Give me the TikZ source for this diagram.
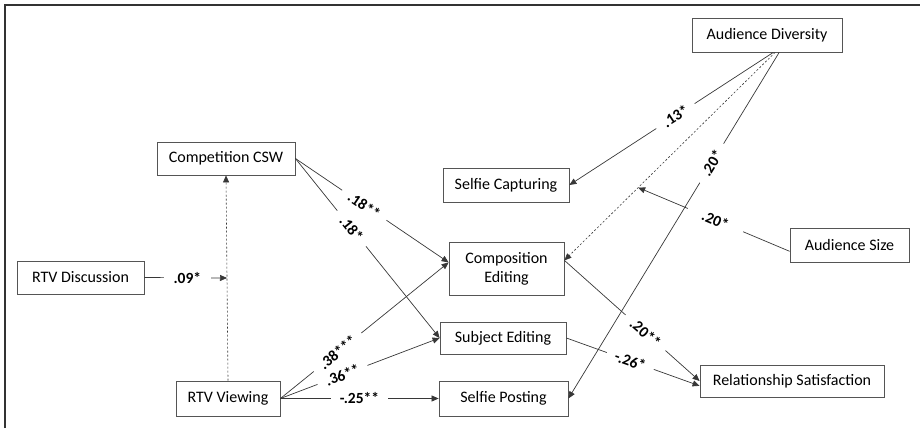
\documentclass[tikz,border=0pt]{standalone}
\usepackage{fontspec}
\setmainfont{Carlito}
\usetikzlibrary{arrows.meta,calc}

\definecolor{boxline}{RGB}{85,85,85}
\definecolor{pathline}{RGB}{55,55,55}
\tikzset{sem/.style={x=1pt,y=-1pt,font=\fontsize{16}{19}\selectfont}}
\tikzset{
  var/.style={draw=boxline,line width=0.8pt,inner sep=0pt,align=center},
  effect/.style={pathline,line width=0.7pt,-{Triangle[length=7pt,width=6pt]}},
  moderated/.style={effect,dash pattern=on 2pt off 2pt,line width=0.6pt},
  coef/.style={fill=white,text=black,font=\fontsize{15.5}{16}\selectfont\bfseries,inner ysep=1pt,inner xsep=#1},
  coef/.default=9pt
}

\begin{document}
\begin{tikzpicture}[sem]
    \useasboundingbox (0,0) rectangle (920,428);
    \draw[black!80,line width=1.6pt] (5,428) -- (5,5) -- (920,5);
    % variables
    \node[var,minimum width=138pt,minimum height=33pt] (csw)    at (226,158.5) {Competition CSW};
    \node[var,minimum width=127pt,minimum height=33pt] (disc)   at (80.5,277.5) {RTV Discussion};
    \node[var,minimum width=104pt,minimum height=35pt] (view)   at (228,398.5) {RTV Viewing};
    \node[var,minimum width=150pt,minimum height=34pt] (audd)   at (767,35)    {Audience Diversity};
    \node[var,minimum width=126pt,minimum height=34pt] (capt)   at (506,185)   {Selfie Capturing};
    \node[var,minimum width=115pt,minimum height=53pt] (comp)   at (506.5,268.5) {Composition\\Editing};
    \node[var,minimum width=126pt,minimum height=32pt] (subj)   at (503,338)   {Subject Editing};
    \node[var,minimum width=129pt,minimum height=35pt] (post)   at (503.5,398.5) {Selfie Posting};
    \node[var,minimum width=119pt,minimum height=34pt] (aus)    at (849.5,245) {Audience Size};
    \node[var,minimum width=184pt,minimum height=32pt] (relsat) at (792,381)   {Relationship Satisfaction};
    % points where the moderators meet the dashed paths
    \coordinate (m1) at ($(view.north)!0.5!(csw.south)$);
    \coordinate (m2) at ($(audd.-65)!0.65!(comp.8)$);
    % paths
    \draw[moderated] (view.north) -- (csw.south);
    \draw[moderated] (audd.-65) -- (comp.8);
    \draw[effect] (disc.east) -- node[coef=10pt,pos=0.52] {.09*} (m1);
    \draw[effect] (csw.east) -- node[coef,sloped,pos=0.45] {.18**} (comp.174);
    \draw[effect] (csw.east) -- node[coef,sloped,pos=0.39] {.18*} (subj.west);
    \draw[effect] (view.east) -- node[coef,sloped,pos=0.34] {.38***} (comp.174);
    \draw[effect] (view.east) -- node[coef,sloped,pos=0.39] {.36**} (subj.west);
    \draw[effect] (view.east) -- node[coef,pos=0.5] {-.25**} (post.west);
    \draw[effect] (audd.-70) -- node[coef,sloped,pos=0.48] {.13*} (capt.east);
    \draw[effect] (comp.8) -- node[coef,sloped,pos=0.6] {.20**} (relsat.west);
    \draw[effect] (subj.east) -- node[coef,sloped,pos=0.48] {-.26*} (relsat.183);
    \draw[effect] (aus.186) -- node[coef=16pt,sloped,pos=0.49] {.20*} (m2);
    \draw[effect] (audd.-55) -- node[coef,sloped,pos=0.32] {.20*} (post.east);
\end{tikzpicture}
\end{document}
